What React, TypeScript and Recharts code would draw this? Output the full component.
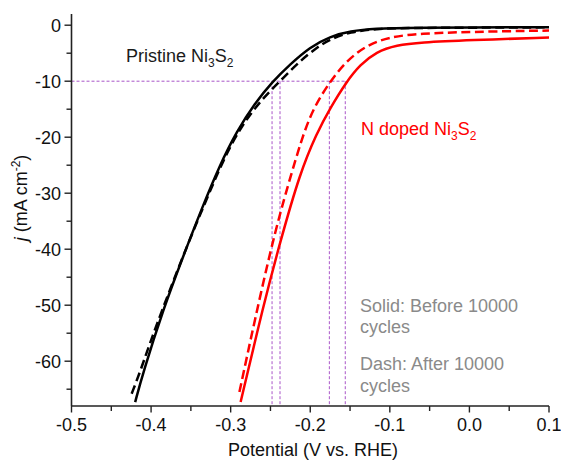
import React from 'react';
import { LineChart, Line, XAxis, YAxis, ReferenceLine } from 'recharts';

// ---- data (potential in V vs. RHE, current density in mA cm^-2) ----
const pristineBeforeV = [-0.42, -0.41, -0.3847, -0.3595, -0.3365, -0.3134, -0.2925, -0.27, -0.247, -0.2255, -0.2004, -0.175, -0.15, -0.117, -0.08, 0.1];
const pristineBeforeJ = [-67.3, -62.0, -50.7, -41.2, -32.8, -24.9, -19.0, -14.0, -10.0, -7.0, -3.9, -2.0, -1.05, -0.6, -0.45, -0.35];

const pristineAfterV = [-0.4244, -0.414, -0.397, -0.3595, -0.333, -0.308, -0.286, -0.262, -0.238, -0.213, -0.192, -0.175, -0.15, -0.117, -0.08, 0.1];
const pristineAfterJ = [-65.8, -62.0, -54.9, -41.0, -32.0, -23.6, -17.9, -13.4, -10.0, -6.4, -4.0, -2.5, -1.2, -0.65, -0.48, -0.38];

const nDopedBeforeV = [-0.2875, -0.259, -0.238, -0.213, -0.192, -0.175, -0.154, -0.1375, -0.117, -0.0915, -0.062, 0.0, 0.1];
const nDopedBeforeJ = [-67.3, -50.1, -38.8, -26.4, -19.3, -14.8, -10.0, -7.1, -4.75, -3.56, -3.08, -2.67, -2.19];

const nDopedAfterV = [-0.289, -0.2695, -0.244, -0.221, -0.209, -0.196, -0.175, -0.154, -0.129, -0.1, -0.062, 0.0, 0.1];
const nDopedAfterJ = [-65.5, -52.5, -36.5, -25.2, -19.6, -14.8, -10.0, -6.3, -3.56, -2.08, -1.48, -1.19, -0.95];

// potentials at which each curve reaches -10 mA cm^-2
const markerV = [-0.248, -0.238, -0.176, -0.156];
const markerJ = -10;

const xTickValues = [-0.5, -0.45, -0.4, -0.35, -0.3, -0.25, -0.2, -0.15, -0.1, -0.05, 0, 0.05, 0.1];
const yTickValues = [0, -5, -10, -15, -20, -25, -30, -35, -40, -45, -50, -55, -60, -65];

const xDomain = [-0.5, 0.1];
const yDomain = [-68, 2];

const toRows = (v: number[], j: number[]) => v.map((x, i) => ({ v: x, j: j[i] }));

const pristineBefore = toRows(pristineBeforeV, pristineBeforeJ);
const pristineAfter = toRows(pristineAfterV, pristineAfterJ);
const nDopedBefore = toRows(nDopedBeforeV, nDopedBeforeJ);
const nDopedAfter = toRows(nDopedAfterV, nDopedAfterJ);

const W = 561;
const H = 462;
const FONT = '"Liberation Sans", Arial, Helvetica, sans-serif';
const AXIS = '#222';
const PURPLE = '#a955c8';
const GRAY = '#8a8a8a';

const XTick = (props: any) => {
  const { x, y, payload } = props;
  const v = payload.value as number;
  const major = Math.abs(Math.round(v * 100) % 10) === 0;
  return (
    <g>
      <line x1={x} x2={x} y1={y} y2={y + (major ? 6.5 : 5)} stroke={AXIS} strokeWidth={1.4} />
      {major && (
        <text x={x} y={y + 25} textAnchor="middle" fontSize={18} fill="#111" fontFamily={FONT}>
          {v.toFixed(1)}
        </text>
      )}
    </g>
  );
};

const YTick = (props: any) => {
  const { x, y, payload } = props;
  const v = payload.value as number;
  const major = Math.round(v) % 10 === 0;
  return (
    <g>
      <line x1={x - (major ? 7 : 5)} x2={x} y1={y} y2={y} stroke={AXIS} strokeWidth={1.4} />
      {major && (
        <text x={x - 10.5} y={y} dy="0.35em" textAnchor="end" fontSize={18} fill="#111" fontFamily={FONT}>
          {String(v)}
        </text>
      )}
    </g>
  );
};

const Sub = ({ children }: { children: React.ReactNode }) => (
  <tspan fontSize={12} dy={5}>{children}</tspan>
);

export default function App() {
  return (
    <div style={{ position: 'absolute', left: 0, top: 0, width: W, height: H, background: '#fff' }}>
      <LineChart
        width={W}
        height={H}
        margin={{ top: 14, right: 12, bottom: 0, left: 0 }}
      >
        <XAxis
          dataKey="v"
          type="number"
          domain={xDomain}
          ticks={xTickValues}
          interval={0}
          allowDataOverflow
          height={56}
          tickSize={0}
          tickMargin={0}
          tickLine={false}
          axisLine={{ stroke: AXIS, strokeWidth: 1.6 }}
          tick={<XTick />}
        />
        <XAxis
          xAxisId="top"
          orientation="top"
          dataKey="v"
          type="number"
          domain={xDomain}
          height={0}
          tick={false}
          tickLine={false}
          axisLine={{ stroke: '#444', strokeWidth: 1.6 }}
        />
        <YAxis
          dataKey="j"
          type="number"
          domain={yDomain}
          ticks={yTickValues}
          interval={0}
          allowDataOverflow
          width={71.5}
          tickSize={0}
          tickMargin={0}
          tickLine={false}
          axisLine={{ stroke: AXIS, strokeWidth: 1.6 }}
          tick={<YTick />}
        />
        <YAxis
          yAxisId="right"
          orientation="right"
          type="number"
          domain={yDomain}
          width={0}
          tick={false}
          tickLine={false}
          axisLine={{ stroke: '#444', strokeWidth: 1.6 }}
        />

        <ReferenceLine
          segment={[{ x: xDomain[0], y: markerJ }, { x: Math.max(...markerV), y: markerJ }]}
          stroke={PURPLE}
          strokeWidth={1}
          strokeDasharray="3 2"
          ifOverflow="visible"
        />
        {markerV.map((mv) => (
          <ReferenceLine
            key={mv}
            segment={[{ x: mv, y: markerJ }, { x: mv, y: yDomain[0] }]}
            stroke={PURPLE}
            strokeWidth={1}
            strokeDasharray="3 2"
            ifOverflow="visible"
          />
        ))}

        <Line data={pristineBefore} dataKey="j" type="basis" stroke="#000" strokeWidth={2.5} dot={false} isAnimationActive={false} />
        <Line data={pristineAfter} dataKey="j" type="basis" stroke="#000" strokeWidth={2.5} strokeDasharray="9 4.5" dot={false} isAnimationActive={false} />
        <Line data={nDopedBefore} dataKey="j" type="basis" stroke="#ff0000" strokeWidth={2.5} dot={false} isAnimationActive={false} />
        <Line data={nDopedAfter} dataKey="j" type="basis" stroke="#ff0000" strokeWidth={2.5} strokeDasharray="9 4.5" dot={false} isAnimationActive={false} />
      </LineChart>

      <svg
        width={W}
        height={H}
        style={{ position: 'absolute', left: 0, top: 0, pointerEvents: 'none' }}
        fontFamily={FONT}
      >
        <text x={126} y={61.5} fontSize={18} fill="#1a1a1a">
          Pristine Ni<Sub>3</Sub>
          <tspan dy={-5}>S</tspan>
          <Sub>2</Sub>
        </text>
        <text x={361} y={135} fontSize={18} fill="#ff0000">
          N doped Ni<Sub>3</Sub>
          <tspan dy={-5}>S</tspan>
          <Sub>2</Sub>
        </text>
        <text x={360} y={311.5} fontSize={18} fill={GRAY}>Solid: Before 10000</text>
        <text x={360} y={333} fontSize={18} fill={GRAY}>cycles</text>
        <text x={360} y={370} fontSize={18} fill={GRAY}>Dash: After 10000</text>
        <text x={360} y={391.5} fontSize={18} fill={GRAY}>cycles</text>

        <text x={313} y={456} fontSize={18} fill="#111" textAnchor="middle">
          Potential (V vs. RHE)
        </text>
        <text
          transform="translate(27 198) rotate(-90)"
          fontSize={18}
          fill="#111"
          textAnchor="middle"
        >
          <tspan fontStyle="italic">j</tspan> (mA cm<tspan fontSize={12} dy={-7}>-2</tspan>
          <tspan dy={7}>)</tspan>
        </text>
      </svg>
    </div>
  );
}
